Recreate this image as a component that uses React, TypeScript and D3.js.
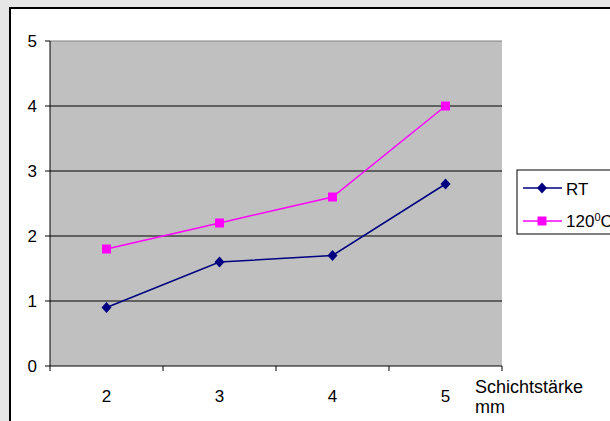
import React from "react";
import * as d3 from "d3";

const categories = ["2", "3", "4", "5"];
const rtValues = [0.9, 1.6, 1.7, 2.8];
const hotValues = [1.8, 2.2, 2.6, 4.0];
const yTicks = [0, 1, 2, 3, 4, 5];

export default function App() {
  const W = 610, H = 421;
  const left = 50, right = 502, top = 41, bottom = 366;
  const x = d3.scaleBand<string>().domain(categories).range([left, right]);
  const y = d3.scaleLinear().domain([0, 5]).range([bottom, top]);
  const cx = (c: string) => (x(c) as number) + x.bandwidth() / 2;
  const line = d3.line<number>().x((_, i) => cx(categories[i])).y((v) => y(v));
  const font = "'Liberation Sans', Arial, sans-serif";
  const boundaries = [...categories.map((c) => x(c) as number), right];
  const diamond = "M0,-5.5L5,0L0,5.5L-5,0Z";
  const fs = 17;
  return (
    <svg width={W} height={H} style={{ position: "absolute", left: 0, top: 0 }} fontFamily={font}>
      <rect x={0} y={0} width={W} height={H} fill="#e6e6e6" />
      <rect x={10} y={8} width={W + 10} height={H + 10} fill="#ffffff" stroke="#000" strokeWidth={2} />
      <rect x={left} y={top} width={right - left} height={bottom - top} fill="#c0c0c0" />
      {yTicks.map((t) => (
        <g key={t}>
          {t > 0 && <line x1={left} x2={right} y1={y(t)} y2={y(t)} stroke={t === 5 ? "#808080" : "#000"} strokeWidth={1} />}
          <line x1={left - 5} x2={left} y1={y(t)} y2={y(t)} stroke="#000" />
          <text x={37} y={y(t) + 6} textAnchor="end" fontSize={fs}>{t}</text>
        </g>
      ))}
      <line x1={left} x2={left} y1={top} y2={bottom} stroke="#000" />
      <line x1={left} x2={right} y1={bottom} y2={bottom} stroke="#000" />
      {boundaries.map((b, i) => (
        <line key={i} x1={b} x2={b} y1={bottom} y2={bottom + 5} stroke="#000" />
      ))}
      {categories.map((c) => (
        <text key={c} x={cx(c)} y={bottom + 36} textAnchor="middle" fontSize={fs}>{c}</text>
      ))}
      <text x={475} y={393} fontSize={18}>Schichtstärke</text>
      <text x={475} y={413} fontSize={18}>mm</text>
      <path d={line(hotValues) as string} fill="none" stroke="#ff00ff" strokeWidth={1.5} />
      <path d={line(rtValues) as string} fill="none" stroke="#000080" strokeWidth={1.5} />
      {hotValues.map((v, i) => (
        <rect key={i} x={cx(categories[i]) - 4.5} y={y(v) - 4.5} width={9} height={9} fill="#ff00ff" />
      ))}
      {rtValues.map((v, i) => (
        <path key={i} d={diamond} transform={`translate(${cx(categories[i])},${y(v)})`} fill="#000080" />
      ))}
      <rect x={517} y={170} width={110} height={64} fill="#fff" stroke="#000" strokeWidth={1} />
      <line x1={523} x2={562} y1={188} y2={188} stroke="#000080" strokeWidth={1.5} />
      <path d={diamond} transform="translate(542,188)" fill="#000080" />
      <text x={566} y={195} fontSize={fs}>RT</text>
      <line x1={523} x2={562} y1={221} y2={221} stroke="#ff00ff" strokeWidth={1.5} />
      <rect x={537.5} y={216.5} width={9} height={9} fill="#ff00ff" />
      <text x={566} y={227} fontSize={fs}>120<tspan fontSize={11} dy={-6}>0</tspan><tspan dy={6}>C</tspan></text>
    </svg>
  );
}
